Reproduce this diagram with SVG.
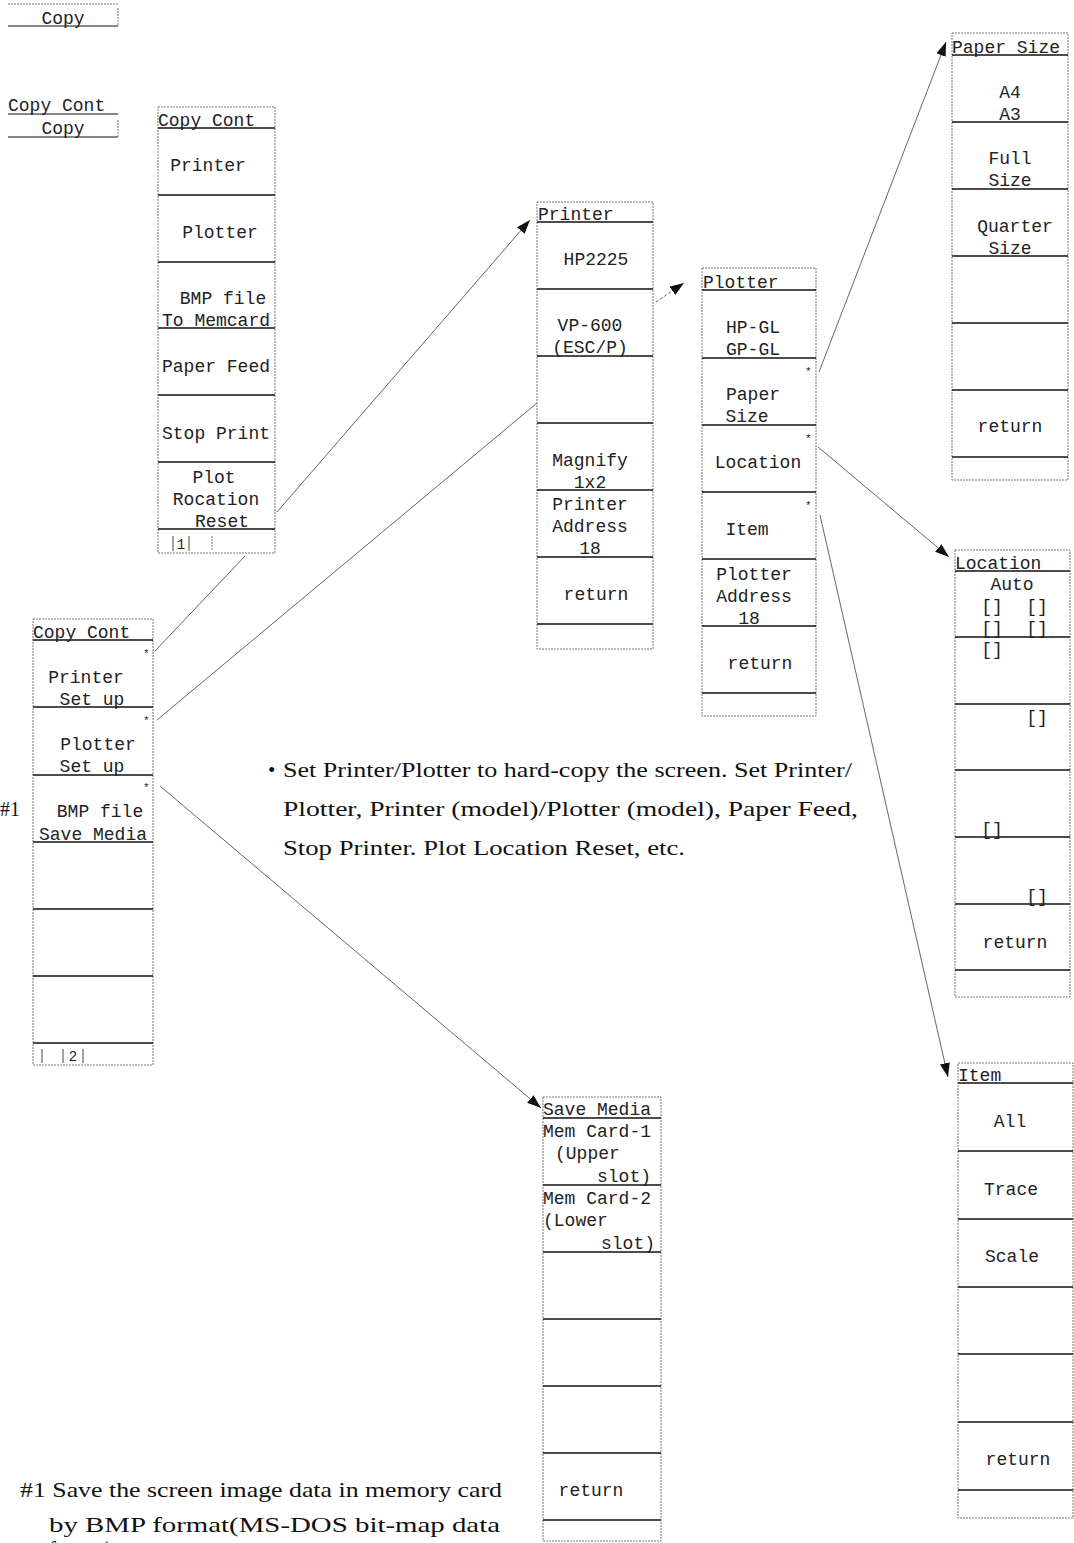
<svg xmlns="http://www.w3.org/2000/svg" width="1074" height="1543" viewBox="0 0 1074 1543">
<defs>
<style>
.bg{fill:#fff}
.box{fill:none;stroke:#777;stroke-width:1;stroke-dasharray:2 1}
.sep{stroke:#111;stroke-width:1.5}
.tick{stroke:#444;stroke-width:1}
.m{font-family:"Liberation Mono","Courier New",monospace;font-size:18px;fill:#222}
.mc{font-family:"Liberation Mono","Courier New",monospace;font-size:18px;fill:#222;text-anchor:middle}
.ast{font-family:"Liberation Mono",monospace;font-size:11px;fill:#222}
.s{font-family:"Liberation Serif","Times New Roman",serif;font-size:21px;fill:#111}
.con{fill:none;stroke:#555;stroke-width:0.9}
</style>
<marker id="ah" markerUnits="userSpaceOnUse" markerWidth="14" markerHeight="10" refX="14" refY="5" orient="auto">
<path d="M0,0 L14,5 L0,10 z" fill="#111"/>
</marker>
</defs>
<rect class="bg" x="0" y="0" width="1074" height="1543"/>

<g id="copy-softkey">
<line class="box" x1="8" y1="4" x2="118" y2="4"/>
<line class="sep" x1="8" y1="26" x2="118" y2="26" style="stroke-width:1"/>
<line class="box" x1="118" y1="8" x2="118" y2="26"/>
<text class="mc" x="63" y="24">Copy</text>
</g>

<g id="copy-cont-softkey">
<text class="m" x="8" y="111">Copy Cont</text>
<line class="sep" x1="8" y1="114" x2="118" y2="114" style="stroke-width:1"/>
<text class="mc" x="63" y="134">Copy</text>
<line class="sep" x1="8" y1="137" x2="118" y2="137" style="stroke-width:1"/>
<line class="box" x1="118" y1="120" x2="118" y2="137"/>
</g>

<g id="menu-copy-cont-1">
<rect class="box" x="158" y="107" width="117" height="446"/>
<line class="sep" x1="158" y1="128" x2="275" y2="128"/>
<line class="sep" x1="158" y1="195" x2="275" y2="195"/>
<line class="sep" x1="158" y1="262" x2="275" y2="262"/>
<line class="sep" x1="158" y1="328" x2="275" y2="328"/>
<line class="sep" x1="158" y1="395" x2="275" y2="395"/>
<line class="sep" x1="158" y1="462" x2="275" y2="462"/>
<line class="sep" x1="158" y1="529" x2="275" y2="529"/>
<text class="m" x="158" y="126">Copy Cont</text>
<text class="mc" x="208" y="171">Printer</text>
<text class="mc" x="220" y="238">Plotter</text>
<text class="mc" x="223" y="304">BMP file</text>
<text class="mc" x="216" y="326">To Memcard</text>
<text class="mc" x="216" y="372">Paper Feed</text>
<text class="mc" x="216" y="439">Stop Print</text>
<text class="mc" x="214" y="483">Plot</text>
<text class="mc" x="216" y="505">Rocation</text>
<text class="mc" x="222" y="527">Reset</text>
<line class="tick" x1="173" y1="536" x2="173" y2="551"/>
<line class="tick" x1="189" y1="536" x2="189" y2="551"/>
<line class="box" x1="212" y1="536" x2="212" y2="551"/>
<text class="mc" x="181" y="549" style="font-size:14px">1</text>
</g>

<g id="menu-copy-cont-2">
<rect class="box" x="33" y="619" width="120" height="446"/>
<line class="sep" x1="33" y1="640" x2="153" y2="640"/>
<line class="sep" x1="33" y1="707" x2="153" y2="707"/>
<line class="sep" x1="33" y1="775" x2="153" y2="775"/>
<line class="sep" x1="33" y1="842" x2="153" y2="842"/>
<line class="sep" x1="33" y1="909" x2="153" y2="909"/>
<line class="sep" x1="33" y1="976" x2="153" y2="976"/>
<line class="sep" x1="33" y1="1043" x2="153" y2="1043"/>
<text class="m" x="33" y="638">Copy Cont</text>
<text class="ast" x="143" y="657">*</text>
<text class="mc" x="86" y="683">Printer</text>
<text class="mc" x="92" y="705">Set up</text>
<text class="ast" x="143" y="724">*</text>
<text class="mc" x="98" y="750">Plotter</text>
<text class="mc" x="92" y="772">Set up</text>
<text class="ast" x="143" y="791">*</text>
<text class="mc" x="100" y="817">BMP file</text>
<text class="mc" x="93" y="840">Save Media</text>
<line class="tick" x1="42" y1="1049" x2="42" y2="1063"/>
<line class="tick" x1="63" y1="1049" x2="63" y2="1063"/>
<line class="tick" x1="83" y1="1049" x2="83" y2="1063"/>
<text class="mc" x="73" y="1061" style="font-size:14px">2</text>
</g>
<text class="s" x="0" y="816" style="font-size:20px">#1</text>

<g id="menu-printer">
<rect class="box" x="537" y="202" width="116" height="447"/>
<line class="sep" x1="537" y1="222" x2="653" y2="222"/>
<line class="sep" x1="537" y1="289" x2="653" y2="289"/>
<line class="sep" x1="537" y1="356" x2="653" y2="356"/>
<line class="sep" x1="537" y1="423" x2="653" y2="423"/>
<line class="sep" x1="537" y1="490" x2="653" y2="490"/>
<line class="sep" x1="537" y1="557" x2="653" y2="557"/>
<line class="sep" x1="537" y1="624" x2="653" y2="624"/>
<text class="m" x="538" y="220">Printer</text>
<text class="mc" x="596" y="265">HP2225</text>
<text class="mc" x="590" y="331">VP-600</text>
<text class="mc" x="590" y="353">(ESC/P)</text>
<text class="mc" x="590" y="466">Magnify</text>
<text class="mc" x="590" y="488">1x2</text>
<text class="mc" x="590" y="510">Printer</text>
<text class="mc" x="590" y="532">Address</text>
<text class="mc" x="590" y="554">18</text>
<text class="mc" x="596" y="600">return</text>
</g>

<g id="menu-plotter">
<rect class="box" x="702" y="268" width="114" height="448"/>
<line class="sep" x1="702" y1="290" x2="816" y2="290"/>
<line class="sep" x1="702" y1="358" x2="816" y2="358"/>
<line class="sep" x1="702" y1="425" x2="816" y2="425"/>
<line class="sep" x1="702" y1="492" x2="816" y2="492"/>
<line class="sep" x1="702" y1="559" x2="816" y2="559"/>
<line class="sep" x1="702" y1="626" x2="816" y2="626"/>
<line class="sep" x1="702" y1="693" x2="816" y2="693"/>
<text class="m" x="703" y="288">Plotter</text>
<text class="mc" x="753" y="333">HP-GL</text>
<text class="mc" x="753" y="355">GP-GL</text>
<text class="ast" x="805" y="375">*</text>
<text class="mc" x="753" y="400">Paper</text>
<text class="mc" x="747" y="422">Size</text>
<text class="ast" x="805" y="442">*</text>
<text class="mc" x="758" y="468">Location</text>
<text class="ast" x="805" y="509">*</text>
<text class="mc" x="747" y="535">Item</text>
<text class="mc" x="754" y="580">Plotter</text>
<text class="mc" x="754" y="602">Address</text>
<text class="mc" x="749" y="624">18</text>
<text class="mc" x="760" y="669">return</text>
</g>

<g id="menu-paper-size">
<rect class="box" x="952" y="33" width="116" height="447"/>
<line class="sep" x1="952" y1="55" x2="1068" y2="55"/>
<line class="sep" x1="952" y1="122" x2="1068" y2="122"/>
<line class="sep" x1="952" y1="189" x2="1068" y2="189"/>
<line class="sep" x1="952" y1="256" x2="1068" y2="256"/>
<line class="sep" x1="952" y1="323" x2="1068" y2="323"/>
<line class="sep" x1="952" y1="390" x2="1068" y2="390"/>
<line class="sep" x1="952" y1="457" x2="1068" y2="457"/>
<text class="m" x="952" y="53">Paper Size</text>
<text class="mc" x="1010" y="98">A4</text>
<text class="mc" x="1010" y="120">A3</text>
<text class="mc" x="1010" y="164">Full</text>
<text class="mc" x="1010" y="186">Size</text>
<text class="mc" x="1015" y="232">Quarter</text>
<text class="mc" x="1010" y="254">Size</text>
<text class="mc" x="1010" y="432">return</text>
</g>

<g id="menu-location">
<rect class="box" x="955" y="550" width="115" height="447"/>
<line class="sep" x1="955" y1="571" x2="1070" y2="571"/>
<line class="sep" x1="955" y1="637" x2="1070" y2="637"/>
<line class="sep" x1="955" y1="704" x2="1070" y2="704"/>
<line class="sep" x1="955" y1="770" x2="1070" y2="770"/>
<line class="sep" x1="955" y1="837" x2="1070" y2="837"/>
<line class="sep" x1="955" y1="904" x2="1070" y2="904"/>
<line class="sep" x1="955" y1="970" x2="1070" y2="970"/>
<text class="m" x="955" y="569">Location</text>
<text class="mc" x="1012" y="590">Auto</text>
<text class="mc" x="992" y="612">[]</text>
<text class="mc" x="1037" y="612">[]</text>
<text class="mc" x="992" y="634">[]</text>
<text class="mc" x="1037" y="634">[]</text>
<text class="mc" x="992" y="655">[]</text>
<text class="mc" x="1037" y="723">[]</text>
<text class="mc" x="992" y="835">[]</text>
<text class="mc" x="1037" y="902">[]</text>
<text class="mc" x="1015" y="948">return</text>
</g>

<g id="menu-item">
<rect class="box" x="958" y="1063" width="115" height="455"/>
<line class="sep" x1="958" y1="1083" x2="1073" y2="1083"/>
<line class="sep" x1="958" y1="1151" x2="1073" y2="1151"/>
<line class="sep" x1="958" y1="1219" x2="1073" y2="1219"/>
<line class="sep" x1="958" y1="1287" x2="1073" y2="1287"/>
<line class="sep" x1="958" y1="1354" x2="1073" y2="1354"/>
<line class="sep" x1="958" y1="1422" x2="1073" y2="1422"/>
<line class="sep" x1="958" y1="1490" x2="1073" y2="1490"/>
<text class="m" x="958" y="1081">Item</text>
<text class="mc" x="1010" y="1127">All</text>
<text class="mc" x="1011" y="1195">Trace</text>
<text class="mc" x="1012" y="1262">Scale</text>
<text class="mc" x="1018" y="1465">return</text>
</g>

<g id="menu-save-media">
<rect class="box" x="543" y="1097" width="118" height="444"/>
<line class="sep" x1="543" y1="1118" x2="661" y2="1118"/>
<line class="sep" x1="543" y1="1185" x2="661" y2="1185"/>
<line class="sep" x1="543" y1="1252" x2="661" y2="1252"/>
<line class="sep" x1="543" y1="1319" x2="661" y2="1319"/>
<line class="sep" x1="543" y1="1386" x2="661" y2="1386"/>
<line class="sep" x1="543" y1="1453" x2="661" y2="1453"/>
<line class="sep" x1="543" y1="1520" x2="661" y2="1520"/>
<text class="m" x="543" y="1115">Save Media</text>
<text class="m" x="543" y="1137">Mem Card-1</text>
<text class="m" x="555" y="1159">(Upper</text>
<text class="m" x="597" y="1182">slot)</text>
<text class="m" x="543" y="1204">Mem Card-2</text>
<text class="m" x="543" y="1226">(Lower</text>
<text class="m" x="601" y="1249">slot)</text>
<text class="mc" x="591" y="1496">return</text>
</g>

<g id="connectors">
<line class="con" x1="277" y1="512" x2="530" y2="220" marker-end="url(#ah)"/>
<line class="con" x1="155" y1="651" x2="245" y2="556"/>
<line class="con" x1="157" y1="720" x2="537" y2="403"/>
<line class="con" x1="656" y1="302" x2="684" y2="283" style="stroke-dasharray:3 2" marker-end="url(#ah)"/>
<line class="con" x1="160" y1="786" x2="541" y2="1108" marker-end="url(#ah)"/>
<line class="con" x1="819" y1="372" x2="946" y2="42" marker-end="url(#ah)"/>
<line class="con" x1="818" y1="447" x2="949" y2="557" marker-end="url(#ah)"/>
<line class="con" x1="820" y1="515" x2="948" y2="1077" marker-end="url(#ah)"/>
</g>

<g id="notes">
<text class="s" x="268" y="777">•</text>
<text class="s" x="283" y="777" textLength="569" lengthAdjust="spacingAndGlyphs">Set Printer/Plotter to hard-copy the screen.  Set Printer/</text>
<text class="s" x="283" y="816" textLength="575" lengthAdjust="spacingAndGlyphs">Plotter, Printer (model)/Plotter (model), Paper Feed,</text>
<text class="s" x="283" y="855" textLength="402" lengthAdjust="spacingAndGlyphs">Stop Printer. Plot Location Reset, etc.</text>
<text class="s" x="20" y="1497" textLength="482" lengthAdjust="spacingAndGlyphs">#1 Save the screen image data in memory card</text>
<text class="s" x="49" y="1532" textLength="451" lengthAdjust="spacingAndGlyphs">by BMP format(MS-DOS bit-map data</text>
<text class="s" x="49" y="1556">format).</text>
</g>
</svg>
